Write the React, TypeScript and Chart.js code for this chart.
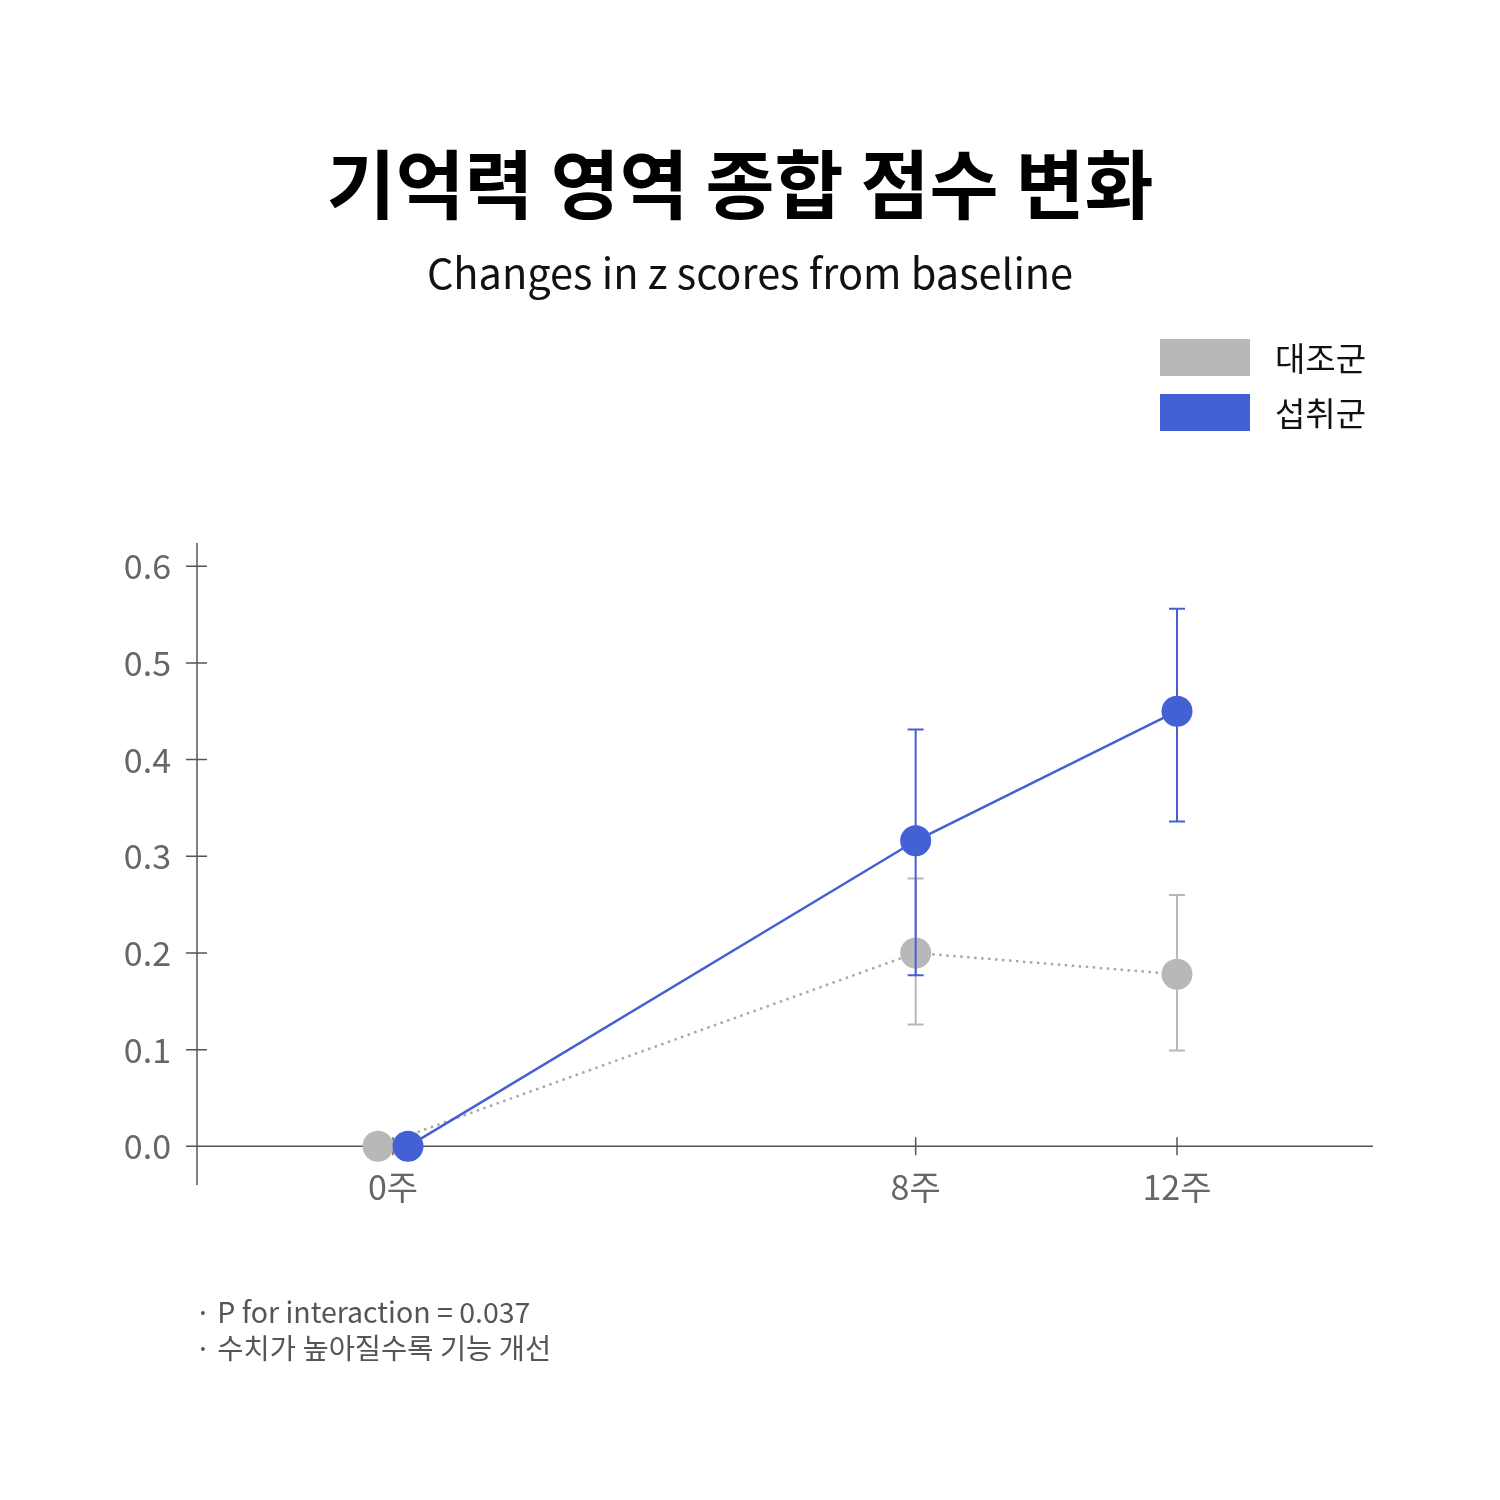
import React, { useEffect, useRef } from 'react';
import { Chart, registerables } from 'chart.js';

Chart.register(...registerables);

// week positions / labels on the x axis
const weekTicks = [0, 8, 12];
const weekLabels = ['0주', '8주', '12주'];
const yTicks = [0, 0.1, 0.2, 0.3, 0.4, 0.5, 0.6];

// 대조군 (control), week 0 dodged a bit to the left
const controlWeeks = [-0.23, 8, 12];
const controlMean = [0, 0.2, 0.178];
const controlLow = [0, 0.126, 0.099];
const controlHigh = [0, 0.277, 0.26];

// 섭취군 (intake), week 0 dodged a bit to the right
const intakeWeeks = [0.23, 8, 12];
const intakeMean = [0, 0.316, 0.45];
const intakeLow = [0, 0.177, 0.336];
const intakeHigh = [0, 0.431, 0.556];

const BLUE = '#4361d5';
const GRAY = '#b8b8b8';
const FONT = '"Noto Sans CJK KR", "Noto Sans", sans-serif';

const axesPlugin = {
    id: 'customAxes',
    beforeDatasetsDraw(chart: any) {
        const { ctx, chartArea, scales } = chart;
        const x = scales.x;
        const y = scales.y;
        const y0 = y.getPixelForValue(0);
        ctx.save();
        ctx.strokeStyle = '#555';
        ctx.lineWidth = 1.5;
        ctx.beginPath();
        ctx.moveTo(chartArea.left, chartArea.top);
        ctx.lineTo(chartArea.left, chartArea.bottom);
        ctx.moveTo(chartArea.left, y0);
        ctx.lineTo(chartArea.right, y0);
        yTicks.forEach((v) => {
            const py = y.getPixelForValue(v);
            ctx.moveTo(chartArea.left - 11, py);
            ctx.lineTo(chartArea.left + 10, py);
        });
        weekTicks.forEach((v) => {
            const px = x.getPixelForValue(v);
            ctx.moveTo(px, y0 - 9);
            ctx.lineTo(px, y0 + 9);
        });
        ctx.stroke();

        ctx.fillStyle = '#666';
        ctx.font = `34px ${FONT}`;
        ctx.textBaseline = 'middle';
        ctx.textAlign = 'right';
        yTicks.forEach((v) => {
            ctx.fillText(v.toFixed(1), chartArea.left - 26, y.getPixelForValue(v));
        });
        ctx.textAlign = 'center';
        weekTicks.forEach((v, i) => {
            ctx.fillText(weekLabels[i], x.getPixelForValue(v), y0 + 41);
        });
        ctx.restore();
    },
};

const errorBarPlugin = {
    id: 'errorBars',
    beforeDatasetDraw(chart: any, args: any) {
        const ds: any = chart.data.datasets[args.index];
        if (!ds.errLow) return;
        const { ctx, scales } = chart;
        ctx.save();
        ctx.strokeStyle = ds.errColor;
        ctx.lineWidth = 2;
        ds.data.forEach((p: any, i: number) => {
            const lo = ds.errLow[i];
            const hi = ds.errHigh[i];
            if (lo === hi) return;
            const px = scales.x.getPixelForValue(p.x);
            const pLo = scales.y.getPixelForValue(lo);
            const pHi = scales.y.getPixelForValue(hi);
            ctx.beginPath();
            ctx.moveTo(px, pLo);
            ctx.lineTo(px, pHi);
            ctx.moveTo(px - 8, pLo);
            ctx.lineTo(px + 8, pLo);
            ctx.moveTo(px - 8, pHi);
            ctx.lineTo(px + 8, pHi);
            ctx.stroke();
        });
        ctx.restore();
    },
};

const MemoryChart: React.FC = () => {
    const chartRef = useRef<HTMLCanvasElement>(null);
    const chartInstance = useRef<Chart | null>(null);

    useEffect(() => {
        if (!chartRef.current) return;
        const ctx = chartRef.current.getContext('2d');
        if (!ctx) return;
        chartInstance.current = new Chart(ctx, {
            type: 'line',
            data: {
                datasets: [
                    {
                        label: '섭취군',
                        data: intakeWeeks.map((w, i) => ({ x: w, y: intakeMean[i] })),
                        borderColor: BLUE,
                        backgroundColor: BLUE,
                        borderWidth: 2.5,
                        pointRadius: 15.5,
                        pointBorderWidth: 0,
                        pointBackgroundColor: BLUE,
                        order: 0,
                        errLow: intakeLow,
                        errHigh: intakeHigh,
                        errColor: BLUE,
                    } as any,
                    {
                        label: '대조군',
                        data: controlWeeks.map((w, i) => ({ x: w, y: controlMean[i] })),
                        borderColor: '#a8a8a8',
                        backgroundColor: GRAY,
                        borderWidth: 2.5,
                        borderDash: [2.5, 4.5],
                        pointRadius: 15.5,
                        pointBorderWidth: 0,
                        pointBackgroundColor: GRAY,
                        order: 1,
                        errLow: controlLow,
                        errHigh: controlHigh,
                        errColor: GRAY,
                    } as any,
                ],
            },
            options: {
                responsive: true,
                maintainAspectRatio: false,
                animation: false,
                clip: false as any,
                layout: { padding: { left: 197, right: 127, top: 543, bottom: 315 } },
                plugins: {
                    legend: { display: false },
                    tooltip: { enabled: false },
                },
                scales: {
                    x: { type: 'linear', min: -3, max: 15, display: false },
                    y: { type: 'linear', min: -0.04, max: 0.624, display: false },
                },
            },
            plugins: [axesPlugin, errorBarPlugin],
        });
        return () => {
            if (chartInstance.current) {
                chartInstance.current.destroy();
                chartInstance.current = null;
            }
        };
    }, []);

    const legendItems = [
        { label: '대조군', color: GRAY, top: 339 },
        { label: '섭취군', color: BLUE, top: 394 },
    ];

    return (
        <div style={{ position: 'absolute', left: 0, top: 0, width: 1500, height: 1500, background: '#fff', fontFamily: FONT }}>
            <canvas ref={chartRef} style={{ position: 'absolute', left: 0, top: 0 }} />
            <div style={{ position: 'absolute', left: 0, top: 139, width: 1480, textAlign: 'center', fontSize: 75, fontWeight: 700, lineHeight: '84px', color: '#000' }}>
                기억력 영역 종합 점수 변화
            </div>
            <div style={{ position: 'absolute', left: 0, top: 246, width: 1500, textAlign: 'center', fontSize: 41.5, lineHeight: '50px', color: '#111' }}>
                Changes in z scores from baseline
            </div>
            {legendItems.map((item) => (
                <div key={item.label} style={{ position: 'absolute', left: 1160, top: item.top, height: 37, display: 'flex', alignItems: 'center' }}>
                    <span style={{ width: 90, height: 37, background: item.color, display: 'inline-block' }} />
                    <span style={{ marginLeft: 25, fontSize: 33, lineHeight: '37px', color: '#111' }}>{item.label}</span>
                </div>
            ))}
            <div style={{ position: 'absolute', left: 195, top: 1293, fontSize: 28.5, lineHeight: '36px', color: '#555' }}>
                <div>· P for interaction = 0.037</div>
                <div>· 수치가 높아질수록 기능 개선</div>
            </div>
        </div>
    );
};

export default function App() {
    return <MemoryChart />;
}
